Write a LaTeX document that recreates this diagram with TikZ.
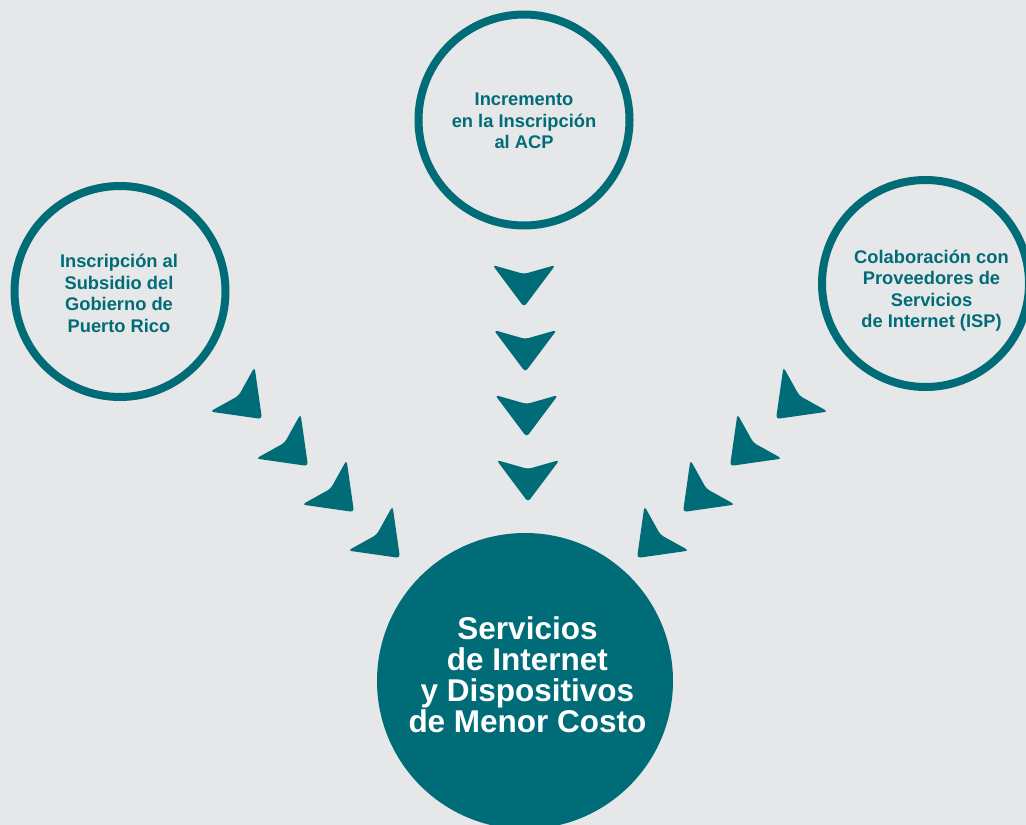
\documentclass[tikz,border=0pt]{standalone}
\usepackage{fontspec}
\setmainfont{Liberation Sans}

\definecolor{petrol}{HTML}{006C77}
\definecolor{fondo}{HTML}{E6E7E8}

\begin{document}
\begin{tikzpicture}[x=1pt,y=-1pt,
    chevron/.pic={\fill[petrol, rounded corners=3.5pt] (0,0) -- (-31.5,-42) -- (0,-33) -- (31.5,-42) -- cycle;}]

        \fill[fondo] (0,0) rectangle (1026,825);
        \useasboundingbox (0,0) rectangle (1026,825);

        \begin{scope}[every node/.style={circle, draw=petrol, line width=8pt, inner sep=0pt, minimum size=211pt}]
          \node (acp)      at (524,120)   {};
          \node (subsidio) at (120,291.5) {};
          \node[minimum size=207pt] (isp) at (925.5,283.5) {};
        \end{scope}

        \node[circle, fill=petrol, inner sep=0pt, minimum size=296pt] (costo) at (525,681) {};

        \begin{scope}[every node/.style={align=center, text=petrol, font=\fontsize{18.3}{21.5}\selectfont\bfseries}]
          \node (acptxt)      at (524,121)    {Incremento\\en la Inscripción\\al ACP};
          \node (subsidiotxt) at (119,293.5)  {Inscripción al\\Subsidio del\\Gobierno de\\Puerto Rico};
          \node (isptxt)      at (931.5,290.5) {Colaboración con\\Proveedores de\\Servicios\\de Internet (ISP)};
        \end{scope}

        \node[align=center, text=white, font=\fontsize{31.5}{31.3}\selectfont\bfseries] (costotxt)
          at (527.5,674.7) {Servicios\\de Internet\\y Dispositivos\\de Menor Costo};

        \foreach \px/\py in {524/307, 525.3/372, 526.6/437, 528/502}
          \pic at (\px,\py) {chevron};
        \foreach \px/\py in {262/419, 308/466, 354/512, 400/558}
          \pic[rotate=45] at (\px,\py) {chevron};
        \foreach \px/\py in {776/419, 730/466, 683/512, 637/558}
          \pic[rotate=-45] at (\px,\py) {chevron};

      \end{tikzpicture}
\end{document}
